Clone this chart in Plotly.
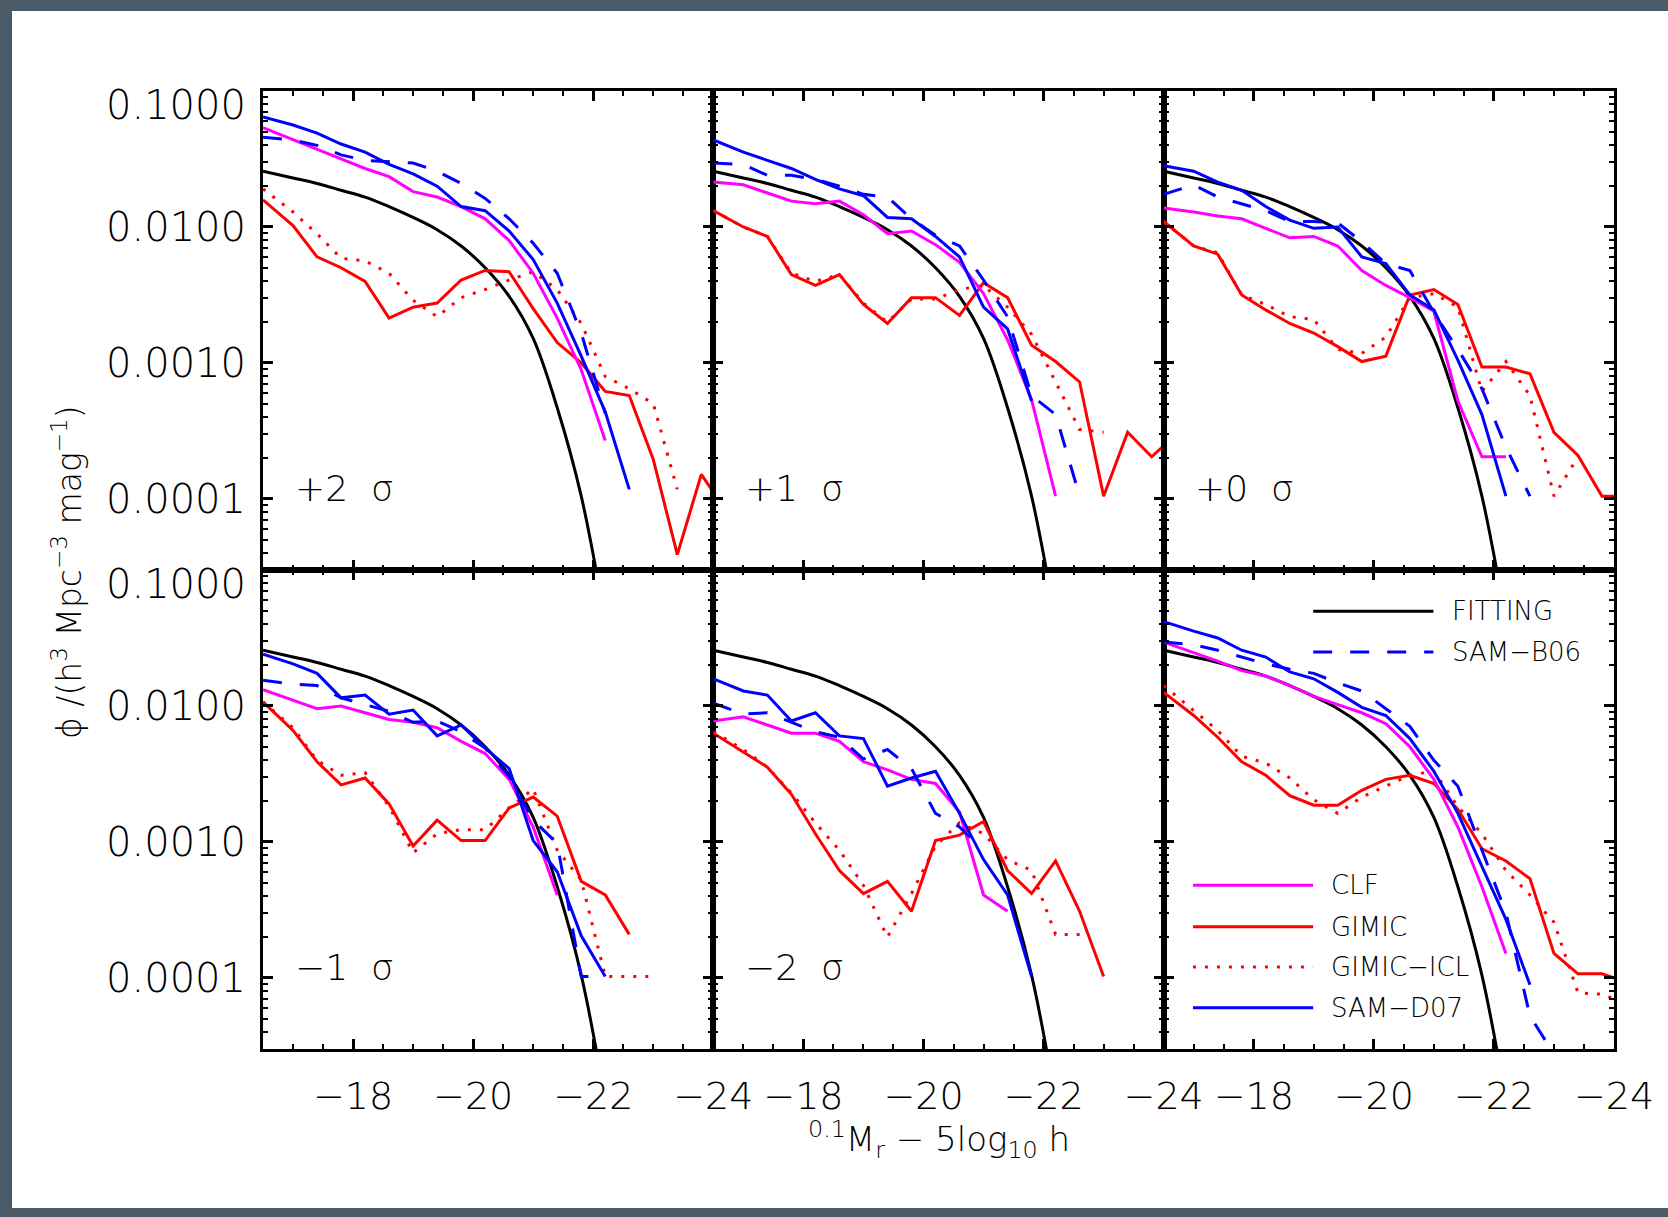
import plotly.graph_objects as go
from plotly.subplots import make_subplots

# ---------------- data (log10 phi) ----------------
MAG = [-16.5, -17.0, -17.4, -17.8, -18.2, -18.6, -19.0, -19.4, -19.8, -20.2,
       -20.6, -21.0, -21.4, -21.8, -22.2, -22.6, -23.0, -23.4, -23.8, -24.2]

FIT_MAG = [-16.5, -17.0, -17.4, -17.8, -18.2, -18.6, -19.0, -19.4, -19.8, -20.2,
           -20.6, -21.0, -21.4, -21.8, -22.2]
FIT_LOG = [-1.59, -1.64, -1.68, -1.73, -1.78, -1.85, -1.93, -2.02, -2.14, -2.30,
           -2.51, -2.82, -3.33, -3.98, -4.90]

PANEL_LABELS = ["+2\u00a0\u00a0σ", "+1\u00a0\u00a0σ", "+0\u00a0\u00a0σ",
                "\u22121\u00a0\u00a0σ", "\u22122\u00a0\u00a0σ", ""]

P1_CLF = [-1.27, -1.36, -1.43, -1.50, -1.57, -1.63, -1.74, -1.78, -1.85, -1.94, -2.10, -2.34, -2.67, -3.05, -3.57]
P1_GIMIC = [-1.80, -1.99, -2.22, -2.30, -2.40, -2.67, -2.59, -2.56, -2.39, -2.32, -2.33, -2.60, -2.85, -3.00, -3.21, -3.24, -3.71, -4.41, -3.82, -4.08]
P1_ICL = [-1.72, -1.89, -2.05, -2.23, -2.25, -2.34, -2.54, -2.66, -2.52, -2.46, -2.39, -2.33, -2.46, -2.71, -3.10, -3.19, -3.30, -3.93]
P1_D07 = [-1.19, -1.25, -1.31, -1.39, -1.45, -1.54, -1.61, -1.70, -1.85, -1.88, -2.03, -2.24, -2.56, -2.95, -3.36, -3.93]
P1_B06 = [-1.34, -1.36, -1.40, -1.47, -1.51, -1.52, -1.53, -1.59, -1.68, -1.79, -1.94, -2.12, -2.34, -2.78, -3.37]

P2_CLF = [-1.67, -1.69, -1.75, -1.81, -1.83, -1.81, -1.91, -2.05, -2.03, -2.13, -2.26, -2.49, -2.83, -3.27, -3.98]
P2_GIMIC = [-1.88, -2.00, -2.07, -2.35, -2.43, -2.35, -2.57, -2.71, -2.52, -2.52, -2.65, -2.41, -2.52, -2.87, -2.99, -3.14, -3.98, -3.51, -3.69, -3.53]
P2_ICL = [-1.88, -2.00, -2.07, -2.34, -2.40, -2.35, -2.56, -2.70, -2.53, -2.53, -2.46, -2.43, -2.59, -2.79, -3.14, -3.49, -3.51]
P2_D07 = [-1.36, -1.45, -1.51, -1.57, -1.65, -1.72, -1.77, -1.93, -1.94, -2.07, -2.22, -2.59, -2.75, -3.28]
P2_B06 = [-1.53, -1.54, -1.62, -1.62, -1.65, -1.70, -1.76, -1.78, -1.94, -2.06, -2.14, -2.39, -2.66, -3.24, -3.38, -3.98]

P3_CLF = [-1.86, -1.89, -1.92, -1.94, -2.01, -2.08, -2.07, -2.14, -2.32, -2.43, -2.52, -2.62, -3.28, -3.69, -3.69]
P3_GIMIC = [-1.96, -2.14, -2.20, -2.50, -2.61, -2.71, -2.78, -2.88, -2.99, -2.95, -2.50, -2.46, -2.57, -3.03, -3.03, -3.08, -3.51, -3.68, -3.98, -3.98]
P3_ICL = [-1.96, -2.14, -2.19, -2.50, -2.57, -2.66, -2.68, -2.90, -2.93, -2.81, -2.52, -2.49, -2.59, -3.21, -2.99, -3.24, -3.98, -3.69]
P3_D07 = [-1.55, -1.59, -1.67, -1.73, -1.85, -1.95, -2.01, -2.00, -2.22, -2.27, -2.50, -2.61, -2.98, -3.38, -3.98]
P3_B06 = [-1.76, -1.69, -1.78, -1.83, -1.88, -1.96, -1.96, -1.97, -2.11, -2.27, -2.32, -2.63, -2.90, -3.19, -3.62, -3.98]

P4_CLF = [-1.88, -1.96, -2.02, -2.00, -2.05, -2.10, -2.12, -2.16, -2.26, -2.35, -2.54, -2.89, -3.39]
P4_GIMIC = [-1.97, -2.18, -2.41, -2.58, -2.53, -2.72, -3.03, -2.84, -2.99, -2.99, -2.75, -2.67, -2.81, -3.29, -3.39, -3.68]
P4_ICL = [-1.97, -2.16, -2.40, -2.51, -2.49, -2.74, -3.08, -2.94, -2.91, -2.91, -2.75, -2.61, -3.06, -3.28, -3.99, -3.99, -3.99]
P4_D07 = [-1.62, -1.69, -1.76, -1.94, -1.92, -2.06, -2.03, -2.22, -2.14, -2.31, -2.46, -2.99, -3.22, -3.69, -3.99]
P4_B06 = [-1.81, -1.84, -1.85, -1.94, -1.99, -2.04, -2.12, -2.11, -2.19, -2.31, -2.52, -2.84, -3.01, -3.99, -3.99]

P5_CLF = [-2.11, -2.08, -2.14, -2.20, -2.20, -2.26, -2.41, -2.47, -2.54, -2.57, -2.78, -3.39, -3.51]
P5_GIMIC = [-2.20, -2.34, -2.45, -2.65, -2.94, -3.21, -3.38, -3.29, -3.51, -2.99, -2.95, -2.85, -3.21, -3.38, -3.14, -3.51, -3.99]
P5_ICL = [-2.19, -2.32, -2.45, -2.64, -2.86, -3.06, -3.32, -3.70, -3.38, -3.03, -2.86, -2.94, -3.13, -3.21, -3.68, -3.68]
P5_D07 = [-1.80, -1.89, -1.92, -2.11, -2.05, -2.22, -2.24, -2.59, -2.53, -2.48, -2.79, -3.13, -3.39, -3.99]
P5_B06 = [-1.98, -2.06, -2.05, -2.12, -2.19, -2.23, -2.39, -2.32, -2.46, -2.79, -2.89, -3.06]

P6_CLF = [-1.53, -1.61, -1.67, -1.74, -1.78, -1.85, -1.93, -1.99, -2.05, -2.13, -2.30, -2.54, -2.89, -3.33, -3.82]
P6_GIMIC = [-1.90, -2.07, -2.23, -2.41, -2.51, -2.66, -2.73, -2.73, -2.62, -2.54, -2.51, -2.57, -2.76, -3.05, -3.14, -3.27, -3.82, -3.97, -3.97, -4.03]
P6_ICL = [-1.85, -2.03, -2.18, -2.37, -2.42, -2.53, -2.69, -2.79, -2.67, -2.59, -2.51, -2.48, -2.74, -2.94, -3.21, -3.39, -3.59, -4.11, -4.12, -4.19]
P6_D07 = [-1.38, -1.45, -1.50, -1.59, -1.64, -1.75, -1.80, -1.90, -2.01, -2.07, -2.24, -2.48, -2.79, -3.18, -3.57, -4.05]
P6_B06 = [-1.53, -1.55, -1.59, -1.64, -1.69, -1.73, -1.76, -1.83, -1.89, -2.02, -2.15, -2.40, -2.59, -3.06, -3.52, -4.28, -4.56]

Y_TICKS = [1e-4, 1e-3, 1e-2, 1e-1]
# the top label (0.1000) is drawn a little below its tick, as in the original
Y_TICKTEXT = ["0.0001", "0.0010", "0.0100", ""]
Y_TOP_LABEL = "0.1000"
X_TICKS = [-18, -20, -22, -24]

PANELS = [
    (P1_CLF, P1_GIMIC, P1_ICL, P1_D07, P1_B06),
    (P2_CLF, P2_GIMIC, P2_ICL, P2_D07, P2_B06),
    (P3_CLF, P3_GIMIC, P3_ICL, P3_D07, P3_B06),
    (P4_CLF, P4_GIMIC, P4_ICL, P4_D07, P4_B06),
    (P5_CLF, P5_GIMIC, P5_ICL, P5_D07, P5_B06),
    (P6_CLF, P6_GIMIC, P6_ICL, P6_D07, P6_B06),
]

# ---------------- figure ----------------
W, H = 1668, 1217
L, R, T, B = 263, 54, 91, 168
FONT = "DejaVu Sans"
LW = 3

fig = make_subplots(rows=2, cols=3, horizontal_spacing=0, vertical_spacing=0)


def phi(vals):
    return [10 ** v for v in vals]


for i, (clf, gim, icl, d07, b06) in enumerate(PANELS):
    r, c = i // 3 + 1, i % 3 + 1
    fig.add_trace(go.Scatter(x=FIT_MAG, y=phi(FIT_LOG), mode="lines", name="FITTING",
                             line=dict(color="black", width=LW, shape="spline"),
                             showlegend=False), row=r, col=c)
    fig.add_trace(go.Scatter(x=MAG[:len(icl)], y=phi(icl), mode="lines", name="GIMIC-ICL",
                             line=dict(color="#ff0000", width=LW, dash="3px,9px"),
                             showlegend=False), row=r, col=c)
    fig.add_trace(go.Scatter(x=MAG[:len(gim)], y=phi(gim), mode="lines", name="GIMIC",
                             line=dict(color="#ff0000", width=LW),
                             showlegend=False), row=r, col=c)
    fig.add_trace(go.Scatter(x=MAG[:len(clf)], y=phi(clf), mode="lines", name="CLF",
                             line=dict(color="#ff00ff", width=LW),
                             showlegend=False), row=r, col=c)
    fig.add_trace(go.Scatter(x=MAG[:len(b06)], y=phi(b06), mode="lines", name="SAM-B06",
                             line=dict(color="#0000ff", width=LW, dash="19px,18px"),
                             showlegend=False), row=r, col=c)
    fig.add_trace(go.Scatter(x=MAG[:len(d07)], y=phi(d07), mode="lines", name="SAM-D07",
                             line=dict(color="#0000ff", width=LW),
                             showlegend=False), row=r, col=c)

# minor tick positions (layout only)
y_minor = [m * 10 ** e for e in range(-5, -1) for m in range(2, 10)]
x_minor = [-17.0 - 0.5 * k for k in range(14)]

axis_common = dict(showgrid=False, zeroline=False, showline=True, linecolor="black",
                   linewidth=3, mirror="allticks", ticks="inside", tickcolor="black",
                   tickwidth=2.5, ticklen=10)
TICKFONT = dict(family=FONT, size=40, color="black", weight=200)
XTICKFONT = dict(family=FONT, size=38, color="black", weight=200)

for i in range(6):
    r, c = i // 3 + 1, i % 3 + 1
    fig.update_xaxes(range=[-16.5, -24], tickmode="array", tickvals=X_TICKS,
                     showticklabels=(r == 2), tickfont=XTICKFONT, ticklabelstandoff=11,
                     minor=dict(ticks="inside", ticklen=5, tickwidth=2, tickcolor="black",
                                tickvals=x_minor),
                     row=r, col=c, **axis_common)
    fig.update_yaxes(type="log", range=[-4.523, -1], tickmode="array", tickvals=Y_TICKS,
                     ticktext=Y_TICKTEXT, showticklabels=(c == 1),
                     tickfont=TICKFONT, ticklabelstandoff=6,
                     minor=dict(ticks="inside", ticklen=5, tickwidth=2, tickcolor="black",
                                tickvals=y_minor),
                     row=r, col=c, **axis_common)

annotations = []
# 0.1000 labels of the left column
for n in ["", "4"]:
    annotations.append(dict(text=Y_TOP_LABEL, xref=f"x{n} domain", yref=f"y{n} domain",
                            x=0, y=1, xanchor="right", yanchor="middle", xshift=-15,
                            yshift=-14, showarrow=False, font=TICKFONT))

for i, lab in enumerate(PANEL_LABELS):
    if not lab:
        continue
    n = "" if i == 0 else str(i + 1)
    annotations.append(dict(text=lab, xref=f"x{n} domain", yref=f"y{n} domain",
                            x=0.066, y=0.17, xanchor="left", yanchor="middle",
                            showarrow=False,
                            font=dict(family=FONT, size=36, color="black", weight=200)))

# axis titles
annotations.append(dict(text="<sup>0.1</sup>M<sub>r</sub> \u2212 5log<sub>10</sub> h",
                        xref="paper", yref="paper", x=0.5, y=1 - (1139 - T) / (H - T - B),
                        xanchor="center", yanchor="middle", showarrow=False,
                        font=dict(family=FONT, size=34, color="black", weight=200)))
annotations.append(dict(text="ϕ /(h<sup>3</sup> Mpc<sup>\u22123</sup> mag<sup>\u22121</sup>)",
                        xref="paper", yref="paper", x=(68 - L) / (W - L - R), y=0.498,
                        xanchor="center", yanchor="middle", textangle=-90, showarrow=False,
                        font=dict(family=FONT, size=33, color="black", weight=200)))

# legend drawn inside the bottom-right panel
LEG = [("FITTING", "black", "solid", 0.332, 0.599, 0.914, 0.635),
       ("SAM\u2212B06", "#0000ff", "19px,18px", 0.332, 0.599, 0.829, 0.635),
       ("CLF", "#ff00ff", "solid", 0.065, 0.332, 0.342, 0.367),
       ("GIMIC", "#ff0000", "solid", 0.065, 0.332, 0.255, 0.367),
       ("GIMIC\u2212ICL", "#ff0000", "3px,9px", 0.065, 0.332, 0.171, 0.367),
       ("SAM\u2212D07", "#0000ff", "solid", 0.065, 0.332, 0.086, 0.367)]
shapes = []
for name, col, dash, x0, x1, yy, xt in LEG:
    shapes.append(dict(type="line", xref="x6 domain", yref="y6 domain", x0=x0, x1=x1,
                       y0=yy, y1=yy, line=dict(color=col, width=LW, dash=dash)))
    annotations.append(dict(text=name, xref="x6 domain", yref="y6 domain", x=xt, y=yy,
                            xanchor="left", yanchor="middle", showarrow=False,
                            font=dict(family=FONT, size=26, color="black", weight=200)))

# white page on dark frame
pw, ph = W - L - R, H - T - B
shapes.insert(0, dict(type="rect", xref="paper", yref="paper", layer="below",
                      x0=(12 - L) / pw, x1=(W + 20 - L) / pw,
                      y0=1 - (1208 - T) / ph, y1=1 - (11 - T) / ph,
                      fillcolor="white", line=dict(width=0)))

fig.update_layout(width=W, height=H, margin=dict(l=L, r=R, t=T, b=B),
                  paper_bgcolor="#4b5a67", plot_bgcolor="white",
                  showlegend=False, annotations=annotations, shapes=shapes,
                  font=dict(family=FONT, color="black"))

fig.write_html("out.html",
               config={"displayModeBar": False},
               post_script="document.body.style.margin='0';"
                           "document.body.style.overflow='hidden';")
